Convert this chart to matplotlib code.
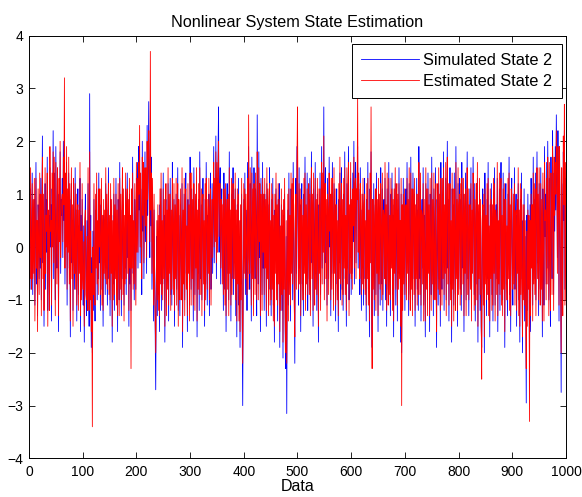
import numpy as np
import matplotlib
matplotlib.use("Agg")
import matplotlib.pyplot as plt

plt.rcParams['font.family'] = ['Liberation Sans', 'DejaVu Sans']

# state 2 of the simulated system
simulated = [
    0.3, -0.8, 1.1, 0.2, -0.5, 1.4, -0.9, 0.6, -0.2, 0.9, -1.1, 0.4, 1.6, -0.7, 0.1, -1.3, 0.8, 0.3, -0.6, 1.0,
    -0.4, 1.3, -1.0, 0.5, 2.1, -0.3, 0.7, -1.5, 0.2, 1.2, -0.8, 0.9, -0.1, 1.7, -1.2, 0.4, 0.6, -0.9, 1.5, 0.0,
    0.8, -1.4, 1.1, 0.3, 2.2, -0.6, 1.4, 0.5, -1.0, 1.9, 0.2, -0.4, 1.2, 0.7, -1.6, 1.0, 0.4, 1.8, -0.5, 0.9,
    0.6, 1.3, -0.2, 2.0, 0.5, 2.0, -0.7, 1.1, 0.3, 1.6, -1.1, 0.8, 0.2, 1.4, -0.4, 0.9, -1.7, 0.6, 1.2, -0.3,
    0.5, -1.2, 1.0, 0.1, -0.8, 1.5, -0.5, 0.7, -1.4, 0.3, 1.1, -0.9, 0.4, -0.2, 1.3, -1.6, 0.6, -0.7, 0.9, -0.3,
    -1.1, 0.4, -1.8, 0.2, 1.0, -0.6, -1.3, 0.5, -0.9, 1.2, -0.4, -1.5, 2.9, -0.7, 0.6, -1.9, -0.2, -2.0, 0.3, -1.2,
    0.9, -0.5, -1.4, 0.7, -0.1, 1.1, -1.0, 0.2, -0.6, 1.4, -0.3, 0.8, -1.2, 0.5, 1.0, -0.8, 0.3, -1.5, 0.6, -0.2,
    0.4, -0.9, 1.2, -0.4, 0.7, -1.1, 0.1, 1.5, -0.6, 0.3, -1.3, 0.9, -0.2, 0.6, -1.8, 0.2, -0.7, 1.0, -1.2, 0.5,
    -0.3, 1.3, -0.8, 0.4, -1.6, 0.9, 0.2, -1.0, 1.6, -0.5, 0.7, -1.3, 0.1, 1.2, -0.6, 0.8, -1.1, 0.3, -0.4, 1.1,
    -0.9, 0.5, 1.4, -0.2, 0.6, -1.5, 1.0, -0.7, 0.3, -1.2, 0.8, -0.1, 1.7, -0.5, 0.2, -1.0, 0.9, 0.4, -0.8, 1.3,
    0.2, 1.6, -0.4, 1.9, 0.7, 1.5, -0.3, 1.1, 0.5, -0.9, 2.0, 0.3, 1.3, -0.6, 0.8, 1.8, 0.1, 1.2, -0.5, 2.3,
    0.6, 1.5, 2.75, 0.9, -0.2, 2.2, 0.4, 1.7, -0.8, 1.0, 0.3, -1.4, 0.7, -0.5, -1.7, -2.7, -0.6, 0.2, -1.3, 0.5,
    -0.9, 0.3, -1.6, 0.8, -0.4, 1.1, -1.2, 0.2, -0.7, 1.4, -0.3, 0.6, -1.8, 0.1, 0.9, -1.0, 0.4, -0.5, 1.2, -1.4,
    0.7, -0.2, 1.3, -0.9, 0.4, -1.1, 1.6, 0.2, -0.6, 0.9, -1.5, 0.5, -0.3, 1.0, -0.8, 0.3, 1.5, -1.2, 0.6, -0.1,
    -1.3, 0.8, 0.2, -0.7, 1.2, -1.9, 0.4, -0.4, 1.0, -1.0, 0.6, 1.4, -0.5, 0.1, -1.6, 0.9, -0.2, 0.5, -1.1, 1.7,
    0.3, -0.8, 1.1, -0.3, 0.6, -1.4, 1.5, 0.2, -0.9, 0.7, -0.1, 1.2, -1.7, 0.4, -0.5, 0.9, -1.2, 1.8, 0.0, -0.6,
    0.8, -1.0, 0.5, 1.3, -0.4, 0.2, -1.5, 0.9, -0.7, 1.6, 0.3, -1.1, 0.6, -0.2, 1.0, -1.3, 0.4, 1.4, -0.8, 0.1,
    1.2, -0.5, 0.7, 1.9, -0.3, 1.0, 0.4, 2.1, -0.6, 1.3, 0.2, 1.7, 2.65, -0.1, 0.9, 1.5, -0.7, 0.6, 1.1, -0.4,
    0.5, -1.2, 1.4, 0.1, -0.8, 0.9, -1.6, 0.3, 1.2, -0.5, 0.7, -1.0, 1.8, -0.2, 0.4, -1.4, 1.0, -0.6, 0.2, 1.5,
    -0.9, 0.6, -0.3, 1.1, -1.3, 0.4, -1.7, 0.8, -0.4, 1.3, -1.1, 0.2, -1.9, 0.5, -0.7, 1.0, -1.5, -3.0, -0.6, 0.9,
    -0.2, 1.4, -0.9, 0.7, 0.3, -1.2, 1.6, -0.5, 1.9, 0.1, -0.8, 1.2, 0.4, -1.4, 1.7, -0.3, 0.8, -1.0, 1.5, 0.2,
    -0.6, 1.1, 0.5, -1.3, 2.5, 0.3, -0.7, 1.8, -0.2, 0.9, -1.6, 1.3, 0.1, -0.9, 1.6, -0.4, 0.7, -1.2, 1.0, -0.1,
    0.6, -1.5, 1.2, -0.3, 0.8, -1.0, 0.4, 1.5, -0.8, 0.2, -1.3, 0.9, -0.5, 1.3, -1.1, 0.3, -1.8, 0.7, -0.2, 1.1,
    -0.7, 0.5, -1.4, 0.9, -0.4, 1.2, -1.9, 0.1, -0.9, 0.8, -1.2, 0.4, -2.1, 0.6, -0.5, 1.0, -1.6, -2.3, 0.2, -3.15,
    -0.3, 0.7, -1.1, 1.4, -0.6, 0.3, -1.4, 1.1, -0.2, 0.9, -1.0, 1.6, 0.4, -0.8, -2.2, 0.5, 1.3, -0.5, 1.9, 1.0,
    0.2, -1.1, 1.5, -0.4, 0.8, -1.6, 0.6, 1.2, -0.7, 0.3, -1.3, 1.0, -0.2, 1.7, -0.9, 0.5, -0.4, 1.4, -1.2, 0.1,
    0.9, -0.6, 1.3, -1.0, 0.4, 1.8, -0.3, 0.7, -1.5, 1.1, 0.2, -0.8, 1.6, -0.5, 0.6, -1.2, 1.0, 0.3, -1.8, 0.8,
    -0.2, 1.4, -0.9, 0.5, 1.9, -0.4, 1.1, 0.2, 2.65, -0.7, 0.9, 1.5, -0.3, 0.6, -1.1, 1.3, 0.4, -0.6, 1.7, 0.0,
    0.7, -1.3, 1.0, -0.5, 1.6, 0.3, -0.9, 1.2, -0.2, 0.8, -1.4, 0.5, 1.1, -0.7, 0.2, -1.6, 0.9, -0.3, 1.4, -1.0,
    0.4, 1.5, -0.8, 0.6, -1.2, 1.0, -0.1, 1.8, -0.6, 0.3, -1.5, 1.2, -0.4, 0.7, 1.9, -1.0, 0.5, -0.2, 1.3, -0.9,
    0.6, -0.5, 1.4, 0.1, 2.0, -0.7, 0.9, 1.6, -0.3, 0.8, 1.2, 1.9, -0.4, 1.1, 0.3, -0.9, 1.5, 0.2, -1.2, 0.7,
    -0.4, 1.0, -1.1, 0.5, 1.3, -0.6, 0.2, -1.4, 0.9, -0.3, 1.6, -0.8, 0.4, -1.7, 1.1, 0.0, 1.8, -1.0, -1.9, 0.6,
    -0.5, 1.2, -1.3, 0.3, 0.8, -0.9, 1.4, -0.2, 0.6, -1.6, 1.0, -0.4, 0.7, -1.1, 1.5, 0.1, -0.7, 1.1, -1.2, 0.4,
    0.9, -0.3, 1.3, -1.0, 0.5, -1.5, 1.1, 0.2, -0.8, 1.6, -0.6, 0.3, -1.3, 1.0, -0.1, 1.4, -0.9, 0.6, -1.7, 0.8,
    -0.2, 1.2, -1.1, 0.4, 0.9, -1.4, 0.7, -0.5, 1.5, -0.3, 0.2, -1.8, 1.0, -2.0, 0.5, -0.9, 1.3, -0.4, 0.8, -1.2,
    0.3, 1.1, -0.7, 1.6, -0.2, 0.6, -1.3, 1.2, 0.1, -0.9, 1.7, -0.5, 0.8, -1.0, 1.4, 0.3, -0.6, 1.0, -1.5, 0.5,
    -0.3, 1.3, -0.8, 0.7, -1.2, 1.9, 0.2, -0.6, 1.1, -1.4, 0.4, 0.9, -0.4, 1.5, -1.1, 0.6, 0.0, -1.7, 1.2, -0.5,
    0.8, -1.0, 1.4, -0.2, 0.5, -1.6, 1.0, 0.3, -0.9, 1.7, -0.4, 0.6, -1.3, 1.1, 0.2, -0.7, 1.5, -0.1, -1.9, 0.9,
    0.4, -1.1, 1.2, -0.6, 0.7, -1.5, 1.6, 0.1, -0.8, 1.0, -0.3, 1.8, -1.2, 0.5, -0.2, 1.3, -1.0, 0.6, 2.0, -0.4,
    0.9, -1.4, 0.3, 1.5, -0.7, 0.2, -1.8, 1.1, -0.5, 0.8, -1.1, 1.4, 0.0, -0.9, 1.9, -0.3, 0.6, -1.5, 1.2, -0.6,
    0.5, 1.3, -0.8, 0.9, -1.2, 1.6, 0.2, -0.4, 1.0, -1.6, 0.7, -0.2, 1.4, -1.0, 0.3, 1.8, -0.6, 0.8, -1.3, 0.1,
    1.1, -0.5, 1.5, -1.1, 0.4, -0.2, 1.7, 0.6, -0.9, 1.2, -1.4, 0.3, 0.9, -0.7, 1.3, -1.8, 0.5, -0.3, 1.0, -1.2,
    0.6, -1.5, -1.9, 0.2, 1.1, -0.8, 0.7, -2.0, 1.4, -0.4, 0.3, -1.3, 0.9, -0.6, 1.6, -1.0, 0.1, -1.7, 0.8, -0.3,
    1.2, -0.9, 0.5, -1.4, 1.0, -0.2, 1.5, -1.1, 0.4, 0.8, -0.6, 1.3, -1.6, 0.2, -0.4, 1.1, -1.2, 0.7, 1.6, -0.8,
    0.3, -1.0, 1.4, -0.5, 0.9, -1.9, 0.6, 1.2, -0.7, 0.1, -1.3, 1.0, -0.3, 1.7, -0.9, 0.5, -1.6, 0.8, 1.3, -0.2,
    -1.1, 0.7, -0.4, 1.5, -0.8, 0.3, 1.0, -1.5, 0.6, -0.2, 1.2, -1.0, 0.4, -1.8, 0.9, -0.6, 1.4, -0.3, -2.0, 0.5,
    -0.7, 1.1, -1.4, 0.2, -0.9, -2.95, 0.6, -1.2, 1.0, -0.5, 0.3, -2.3, 0.8, -1.6, 1.3, -0.1, 0.5, -1.1, 1.7, -0.4,
    0.9, -0.6, 1.4, -1.0, 0.4, 1.8, -0.3, 0.7, -1.3, 1.2, 0.1, -0.8, 1.5, -0.5, 0.6, -1.7, 1.1, 0.3, -1.1, 1.9,
    0.2, 1.0, -0.7, 1.6, -0.4, 2.0, 0.5, -1.0, 1.3, 0.1, -1.5, 1.7, 0.4, -0.6, 2.2, 0.8, -0.9, 1.4, 0.3, 1.9,
    0.7, 2.5, 1.1, -0.2, 2.2, 0.9, -1.4, 1.6, 0.4, -0.5, -2.75, 1.2, 0.6, -1.0, 1.8, 0.5, 2.2, -0.8, 1.3, 0.0,
]

# filter estimate of state 2
estimated = [
    0.1, -0.6, 1.5, 0.0, -0.8, 1.2, -0.6, 0.9, -0.5, 1.3, -1.4, 0.2, 1.3, -0.4, 0.5, -1.6, 1.1, 0.0, -0.9, 1.4,
    -0.2, 1.0, -1.3, 0.8, 1.7, -0.6, 1.0, -1.2, -0.1, 1.5, -0.5, 0.6, 0.3, 1.4, -1.5, 0.7, 0.3, -1.2, 1.9, 0.3,
    0.5, -1.1, 1.4, 0.0, 1.8, -0.3, 1.7, 0.2, -1.3, 1.6, 0.5, -0.7, 1.5, 0.4, -1.3, 1.3, 0.1, 2.0, -0.2, 0.6,
    0.9, 1.0, 0.1, 1.7, 0.8, 3.2, -0.4, 1.4, 0.0, 1.9, -0.8, 1.1, -0.1, 1.7, -0.7, 1.2, -1.4, 0.3, 1.5, -0.6,
    0.8, -1.5, 1.3, -0.2, -0.5, 1.2, -0.8, 1.0, -1.1, 0.6, 0.8, -1.2, 0.7, -0.5, 1.6, -1.3, 0.3, -1.0, 1.2, -0.6,
    -0.8, 0.1, -1.5, 0.5, 0.7, -0.9, -1.0, 0.2, -1.2, 1.5, -0.7, -1.2, 1.8, -1.0, 0.3, -1.6, -0.5, -3.4, 0.0, -0.9,
    1.2, -0.8, -1.1, 1.0, -0.4, 1.4, -0.7, 0.5, -0.9, 1.1, 0.0, 1.1, -0.9, 0.2, 1.3, -1.1, 0.6, -1.2, 0.9, -0.5,
    0.7, -0.6, 1.5, -0.7, 1.0, -0.8, 0.4, 1.2, -0.9, 0.6, -1.0, 1.2, -0.5, 0.9, -1.5, 0.5, -1.0, 1.3, -0.9, 0.8,
    -0.6, 1.0, -1.1, 0.7, -1.3, 1.2, -0.1, -1.3, 1.3, -0.8, 1.0, -1.0, 0.4, 1.5, -0.9, 1.1, -1.4, 0.6, -0.7, 1.4,
    -0.6, 0.8, 1.1, -0.5, 0.9, -1.2, 1.3, -0.4, 0.6, -2.3, 1.1, -0.4, 1.4, -0.8, 0.5, -0.7, 1.2, 0.1, -1.1, 1.6,
    -0.1, 1.3, -0.1, 1.6, 1.0, 2.3, 0.0, 1.4, 0.2, -0.6, 1.7, 0.6, 1.6, -0.3, 1.1, 1.5, 0.4, 1.5, -0.2, 2.0,
    0.9, 1.8, 2.2, 1.2, 0.1, 3.7, 0.7, 1.4, -0.5, 1.3, 0.0, -1.1, 1.0, -0.8, -1.4, -2.0, -0.9, 0.5, -1.0, 0.8,
    -1.2, 0.6, -1.3, 1.1, -0.7, 1.4, -0.9, 0.5, -1.0, 1.1, -0.6, 0.9, -1.5, 0.4, 1.2, -1.3, 0.7, -0.8, 1.5, -1.1,
    1.0, -0.5, 1.0, -1.2, 0.7, -0.8, 1.3, 0.5, -0.9, 1.2, -1.2, 0.8, -0.6, 1.3, -1.1, 0.6, 1.2, -1.5, 0.9, -0.4,
    -1.0, 1.1, -0.1, -1.0, 1.5, -1.6, 0.7, -0.7, 1.3, -1.3, 0.9, 1.1, -0.8, 0.4, -1.3, 1.2, -0.5, 0.8, -1.4, 1.4,
    0.6, -1.1, 1.4, -0.6, 0.9, -1.1, 1.2, 0.5, -1.2, 1.0, -0.4, 1.5, -1.4, 0.7, -0.8, 1.2, -0.9, 1.5, 0.3, -0.9,
    1.1, -1.3, 0.8, 1.0, -0.7, 0.5, -1.2, 1.2, -1.0, 1.3, 0.6, -0.8, 0.9, -0.5, 1.3, -1.0, 0.7, 1.1, -1.1, 0.4,
    0.9, -0.2, 1.0, 1.6, 0.0, 1.3, 0.1, 1.8, -0.3, 1.6, -0.1, 1.4, 2.0, 0.2, 1.2, 1.2, -0.4, 0.9, 0.8, -0.7,
    0.8, -0.9, 1.1, 0.4, -1.1, 1.2, -1.3, 0.6, 0.9, -0.8, 1.0, -1.3, 1.5, -0.5, 0.7, -1.1, 1.3, -0.9, 0.5, 1.2,
    -0.6, 0.9, -0.6, 1.4, -1.0, 0.7, -1.4, 1.1, -0.7, 1.0, -1.4, 0.5, -1.6, 0.8, -1.0, 1.3, -1.2, -2.2, -0.9, 1.2,
    -0.5, 1.1, -0.6, 1.0, 0.0, -0.9, 1.3, -0.8, 2.5, -0.2, -0.5, 1.5, 0.1, -1.1, 1.4, -0.6, 1.1, -1.3, 1.2, 0.5,
    -0.9, 1.4, 0.2, -1.0, 1.8, 0.6, -1.0, 1.5, 0.1, 1.2, -1.3, 1.0, 0.4, -1.2, 1.3, -0.1, 1.0, -0.9, 1.3, -0.4,
    0.9, -1.2, 1.5, -0.6, 1.1, -1.3, 0.7, 1.2, -1.1, 0.5, -1.0, 1.2, -0.8, 1.0, -1.4, 0.6, -1.5, 1.0, -0.5, 1.4,
    -1.0, 0.8, -1.1, 1.2, -0.7, 0.9, -1.6, 0.4, -1.2, 1.1, -0.9, 0.7, -1.8, 0.9, -0.8, 1.3, -1.3, -2.0, 0.5, -2.2,
    -0.6, 1.0, -1.4, 1.1, -0.9, 0.6, -1.1, 1.4, -0.5, 1.2, -0.7, 1.3, 0.7, -1.1, -1.7, 0.8, 1.0, -0.8, 1.6, 2.65,
    0.5, -0.8, 1.2, -0.7, 1.1, -1.3, 0.9, 0.9, -1.0, 0.6, -1.0, 1.3, -0.5, 1.4, -1.2, 0.8, -0.7, 1.1, -0.9, 0.4,
    1.2, -0.9, 1.0, -1.3, 0.7, 1.5, -0.6, 1.0, -1.2, 1.4, -0.1, -1.1, 1.3, -0.8, 0.9, -0.9, 1.3, 0.0, -1.5, 1.1,
    -0.5, 1.1, -1.2, 0.8, 1.6, -0.7, 1.4, -0.1, 2.1, -1.0, 1.2, 1.2, -0.6, 0.9, -1.4, 1.0, 0.7, -0.9, 1.4, 0.3,
    1.0, -1.0, 1.3, -0.8, 1.3, 0.6, -1.2, 1.5, -0.5, 1.1, -1.1, 0.8, 0.8, -1.0, 0.5, -1.3, 1.2, -0.6, 1.7, -0.7,
    0.7, 1.2, -1.1, 0.9, -0.9, 1.3, -0.4, 1.5, -0.9, 0.6, -1.2, 1.5, -0.7, 1.0, 1.6, -1.3, 0.8, -0.5, 1.6, -0.6,
    0.9, -0.8, 1.1, 0.4, 1.7, -0.4, 1.2, 1.3, -0.6, 1.1, 0.9, 2.85, -0.1, 1.4, 0.0, -0.6, 1.2, 0.5, -0.9, 1.0,
    -0.7, 1.3, -0.8, 0.8, 1.0, -0.9, 0.5, -1.1, 1.2, -0.6, 1.3, -1.1, 0.7, -1.4, 1.4, -0.3, 2.65, -0.7, -2.3, 0.9,
    -0.8, 0.9, -1.0, 0.6, 1.1, -1.2, 1.1, -0.5, 0.9, -1.3, 1.3, -0.7, 1.0, -0.8, 1.2, 0.4, -1.0, 1.4, -0.9, 0.7,
    0.6, -0.6, 1.6, -0.7, 0.8, -1.2, 1.4, -0.1, -1.1, 1.3, -0.9, 0.6, -1.0, 1.3, -0.4, 1.1, -1.2, 0.9, -1.4, 1.1,
    -0.5, 1.5, -0.8, 0.7, 1.2, -1.1, 1.0, -0.8, 1.2, -0.6, 0.5, -1.5, 1.3, -3.0, 0.8, -1.2, 1.0, -0.7, 1.1, -0.9,
    0.6, 0.8, -1.0, 1.3, -0.5, 0.9, -1.0, 1.5, -0.2, -1.2, 1.4, -0.8, 1.1, -1.3, 1.1, 0.6, -0.9, 1.3, -1.2, 0.8,
    -0.6, 1.0, -1.1, 1.0, -0.9, 1.6, 0.5, -0.9, 1.4, -1.1, 0.7, 0.6, -0.7, 1.2, -1.4, 0.9, -0.3, -1.4, 1.5, -0.8,
    1.1, -1.3, 1.1, -0.5, 0.8, -1.3, 1.3, 0.0, -1.2, 1.4, -0.7, 0.9, -1.0, 1.4, -0.1, -1.0, 1.2, -0.4, -1.6, 1.2,
    0.7, -0.8, 1.5, -0.9, 1.0, -1.2, 1.3, 0.4, -1.1, 1.3, -0.6, 1.5, -0.9, 0.8, -0.5, 1.6, -1.3, 0.9, 1.7, -0.7,
    1.2, -1.1, 0.6, 1.2, -1.0, 0.5, -1.5, 1.4, -0.8, 1.1, -1.4, 1.1, 0.3, -1.2, 1.6, -0.6, 0.9, -1.2, 1.5, -0.9,
    0.8, 1.0, -1.1, 1.2, -0.9, 1.3, 0.5, -0.7, 1.3, -1.3, 1.0, -0.5, 1.1, -1.3, 0.6, 1.5, -0.9, 1.1, -1.0, 0.4,
    0.8, -0.8, 1.2, -1.4, 0.7, -0.5, 1.4, 0.9, -1.2, 0.9, -1.1, 0.6, 1.2, -1.0, 1.6, -1.5, 0.8, -0.6, 1.3, -0.9,
    0.9, -1.2, -2.5, 0.5, 0.8, -1.1, 1.0, -1.7, 1.1, -0.7, 0.6, -1.0, 1.2, -0.9, 1.3, -1.3, 0.4, -1.4, 1.1, -0.6,
    0.9, -1.2, 0.8, -1.1, 1.3, -0.5, 1.2, -1.4, 0.7, 0.5, -0.9, 1.6, -1.3, 0.5, -0.7, 1.4, -0.9, 1.0, 1.3, -1.1,
    0.6, -1.3, 1.1, -0.8, 1.2, -1.6, 0.9, 0.9, -1.0, 0.4, -1.0, 1.3, -0.6, 1.4, -1.2, 0.8, -1.3, 1.1, 1.0, -0.5,
    -0.8, 1.0, -0.7, 1.2, -1.1, 0.6, 0.7, -1.2, 0.9, -0.5, 1.5, -1.3, 0.7, -1.5, 1.2, -0.9, 1.1, -0.6, -1.7, 0.8,
    -1.0, 0.8, -1.1, 0.5, -1.2, -2.3, 0.3, -1.5, 0.7, -0.8, 0.6, -3.3, 0.5, -1.3, 1.0, -0.4, 0.8, -1.4, 1.4, -0.7,
    1.2, -0.9, 1.1, -1.3, 0.7, 1.5, -0.6, 1.0, -1.0, 1.5, -0.2, -1.1, 1.2, -0.8, 0.9, -1.4, 1.4, 0.0, -1.4, 1.6,
    0.5, 0.7, -1.0, 1.3, -0.7, 1.7, 0.8, -1.3, 1.6, -0.2, -1.2, 1.4, 0.7, -0.9, 1.9, 1.1, -1.2, 1.7, 0.6, 1.6,
    1.0, 2.2, 1.4, -0.5, 1.9, 1.2, -1.1, 1.9, 0.7, -0.8, -2.0, 1.5, 0.3, -1.3, 2.1, 0.8, 2.7, -1.1, 1.6, -1.0,
]

x_ticks = [0, 100, 200, 300, 400, 500, 600, 700, 800, 900, 1000]
y_ticks = [-4, -3, -2, -1, 0, 1, 2, 3, 4]

fig = plt.figure(figsize=(5.82, 4.97), dpi=100)
ax = fig.add_axes([0.0498, 0.0775, 0.9227, 0.851])

ax.plot(np.arange(1, len(simulated) + 1), simulated, color='#0000ff', lw=0.6,
        label='Simulated State 2')
ax.plot(np.arange(1, len(estimated) + 1), estimated, color='#ff0000', lw=0.6,
        label='Estimated State 2')

ax.set_xlim(0, 1000)
ax.set_ylim(-4, 4)
ax.set_xticks(x_ticks)
ax.set_yticks(y_ticks)
ax.tick_params(direction='in', top=True, right=True, labelsize=10, length=4, width=0.6)
ax.tick_params(axis='x', pad=5)
ax.tick_params(axis='y', pad=4)
for s in ax.spines.values():
    s.set_linewidth(0.7)

ax.set_title('Nonlinear System State Estimation', fontsize=11.7, pad=6)
ax.set_xlabel('Data', fontsize=11.5, labelpad=0)

leg = ax.legend(loc='upper right', bbox_to_anchor=(1 - 4.3 / 537, 1 - 8.5 / 423),
                borderaxespad=0, fontsize=11.8, fancybox=False, framealpha=1,
                edgecolor='black', handlelength=3.5, handletextpad=0.3,
                borderpad=0.55, labelspacing=0.35)
leg.get_frame().set_linewidth(0.7)

fig.savefig('out.png', dpi=100)
